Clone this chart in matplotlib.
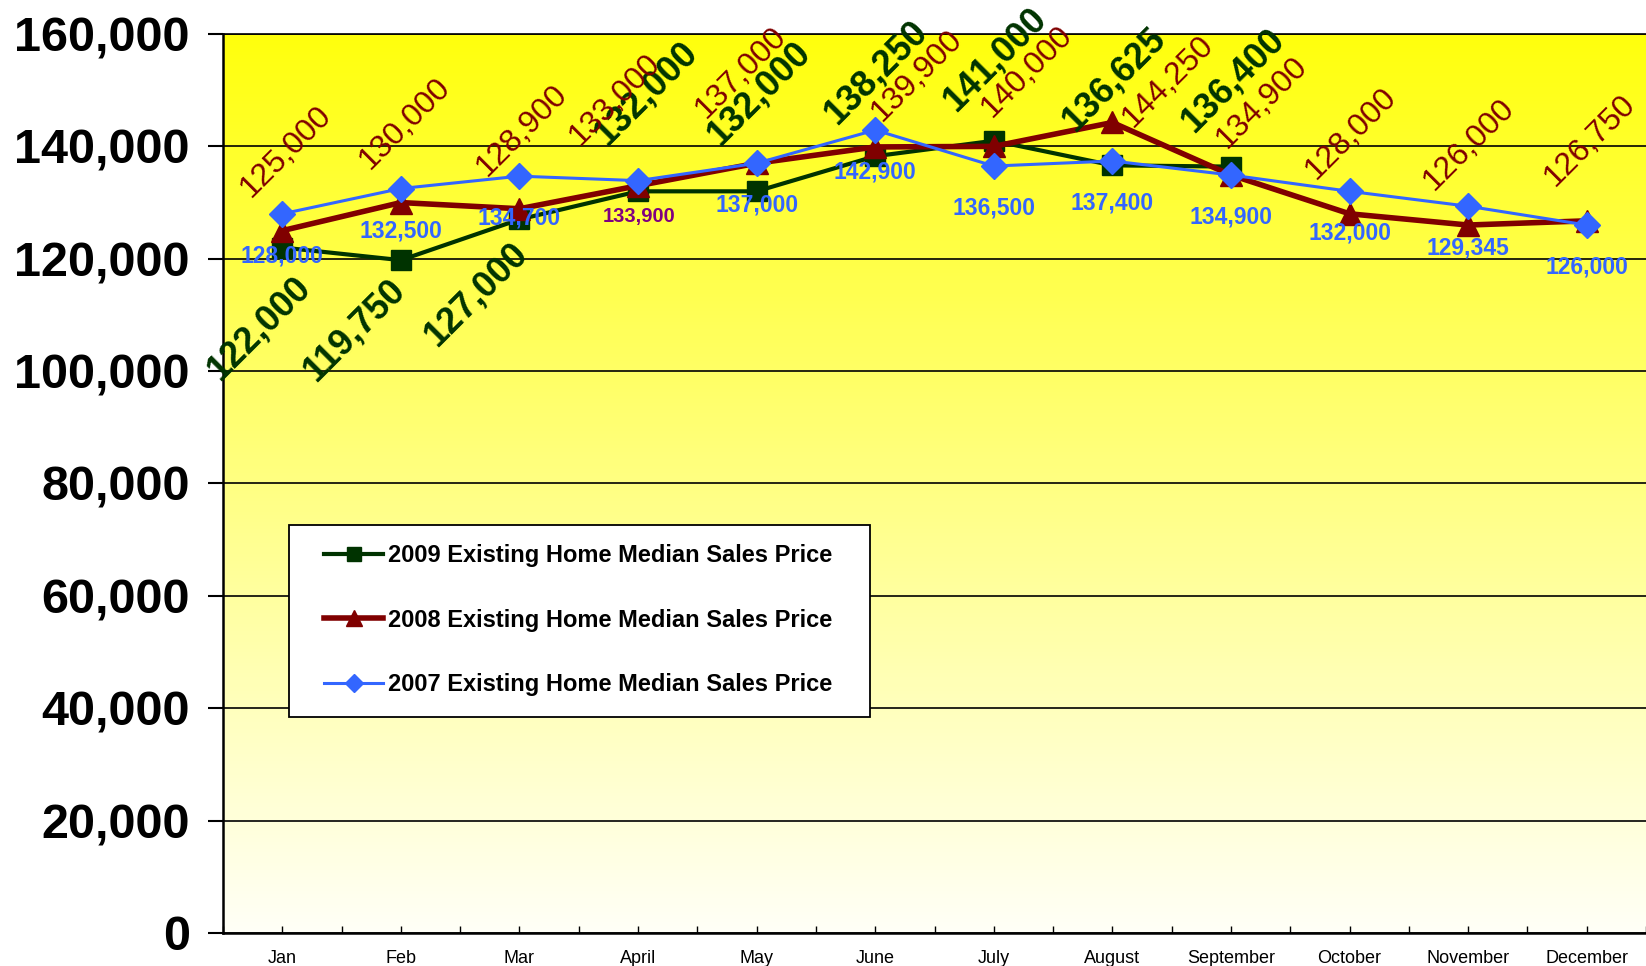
import numpy as np
import matplotlib
matplotlib.use("Agg")
import matplotlib.pyplot as plt
from matplotlib.colors import LinearSegmentedColormap
from matplotlib.patches import Rectangle

plt.rcParams['font.family'] = ['Liberation Sans', 'DejaVu Sans']

# Data
months = ["Jan", "Feb", "Mar", "April", "May", "June", "July", "August",
          "September", "October", "November", "December"]
price_2009 = [122000, 119750, 127000, 132000, 132000, 138250, 141000, 136625, 136400]
price_2008 = [125000, 130000, 128900, 133000, 137000, 139900, 140000, 144250,
              134900, 128000, 126000, 126750]
price_2007 = [128000, 132500, 134700, 133900, 137000, 142900, 136500, 137400,
              134900, 132000, 129345, 126000]
y_ticks = [0, 20000, 40000, 60000, 80000, 100000, 120000, 140000, 160000]
names = ["2009 Existing Home Median Sales Price",
         "2008 Existing Home Median Sales Price",
         "2007 Existing Home Median Sales Price"]

# label placement (pixel offsets from each point)
off_2009 = [(-23, -81), (-46, -70), (-43, -75), (8, 98), (3, 98),
            (1, 84), (1, 82), (2, 86), (2, 86)]
off_2008 = [(4, 79), (4, 79), (3, 78), (-23, 86), (-16, 91), (42, 71),
            (33, 75), (56, 41), (31, 72), (1, 80), (1, 80), (3, 80)]
off_2007 = (0, -42)

green = "#003300"
red = "#800000"
blue = "#3366FF"
purple = "#800080"

W, H = 1646, 966
fig = plt.figure(figsize=(W / 100, H / 100), dpi=100)
fig.patch.set_facecolor("white")
ax = fig.add_axes([223 / W, 1 - 933 / H, (W - 223) / W, (933 - 34) / H])

# yellow gradient background
cmap = LinearSegmentedColormap.from_list("yel", [(1, 1, 0.97), (1, 1, 0.05)])
grad = np.linspace(0, 1, 256).reshape(-1, 1)
ax.imshow(grad, extent=[-0.5, 11.5, 0, 160000], aspect="auto", cmap=cmap,
          origin="lower", zorder=0)

x = np.arange(len(months))
l1, = ax.plot(x[:len(price_2009)], price_2009, color=green, lw=3, marker="s",
              ms=15, zorder=3)
l2, = ax.plot(x, price_2008, color=red, lw=4, marker="^", ms=16, zorder=4)
l3, = ax.plot(x, price_2007, color=blue, lw=2.2, marker="D", ms=13, zorder=5)

ax.set_xlim(-0.5, 11.5)
ax.set_ylim(0, 160000)

# data labels
for i, v in enumerate(price_2009):
    ax.annotate(f"{v:,}", (x[i], v), xytext=off_2009[i], textcoords="offset pixels",
                ha="center", va="center", rotation=45, fontsize=26,
                fontweight="bold", color=green, zorder=10)
for i, v in enumerate(price_2008):
    ax.annotate(f"{v:,}", (x[i], v), xytext=off_2008[i], textcoords="offset pixels",
                ha="center", va="center", rotation=45, fontsize=23,
                color=red, zorder=10)
for i, v in enumerate(price_2007):
    if i == 3:
        ax.annotate(f"{v:,}", (x[i], v), xytext=(1, -36), textcoords="offset pixels",
                    ha="center", va="center", fontsize=14.5, fontweight="bold",
                    color=purple, zorder=10)
    else:
        ax.annotate(f"{v:,}", (x[i], v), xytext=off_2007, textcoords="offset pixels",
                    ha="center", va="center", fontsize=16.5, fontweight="bold",
                    color=blue, zorder=10)

# axes styling
ax.set_yticks(y_ticks)
ax.set_yticklabels([f"{t:,}" for t in y_ticks], fontsize=35, fontweight="bold")
ax.set_xticks(x)
ax.set_xticklabels(months, fontsize=13)
ax.set_xticks(np.arange(-0.5, 12, 1), minor=True)
ax.tick_params(axis="y", direction="out", length=11, width=1.5, pad=13)
ax.tick_params(axis="x", which="both", direction="in", length=5, width=1, pad=12)
ax.yaxis.grid(True, color="black", lw=1.2)
ax.spines["right"].set_visible(False)
ax.spines["top"].set_linewidth(1.2)
ax.spines["left"].set_linewidth(1.8)
ax.spines["bottom"].set_linewidth(1.8)

# legend box
fig.patches.append(Rectangle((289 / W, 1 - 717 / H), (870 - 289) / W, (717 - 525) / H,
                             transform=fig.transFigure, facecolor="white",
                             edgecolor="black", lw=1.3, zorder=20))
leg = fig.legend([l1, l2, l3], names, loc="center",
                 bbox_to_anchor=(578 / W, 1 - 620 / H), frameon=False,
                 prop={"size": 17, "weight": "bold"}, handlelength=2.5,
                 handletextpad=0.2, labelspacing=1.75, markerscale=0.7)
leg.set_zorder(21)

fig.savefig("out.png", dpi=100)
